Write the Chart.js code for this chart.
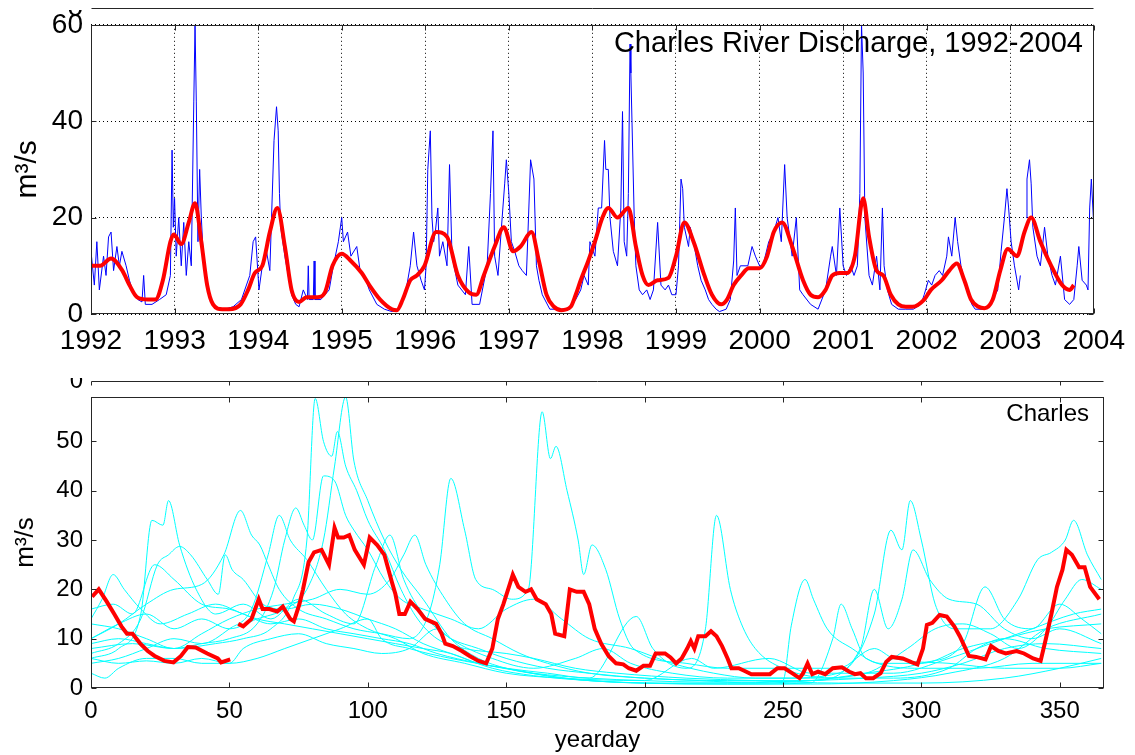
<!DOCTYPE html>
<html>
<head>
<meta charset="utf-8">
<script src="https://cdn.jsdelivr.net/npm/chart.js@4.4.1/dist/chart.umd.min.js"></script>
<style>
  html, body { margin: 0; padding: 0; background: #fff; }
  #wrap { position: relative; width: 1135px; height: 755px; overflow: hidden; }
  canvas { position: absolute; left: 0; }
  #topChart { top: 0; }
  #bottomChart { top: 355px; }
</style>
</head>
<body>
<div id="wrap">
  <canvas id="topChart" width="1135" height="355"></canvas>
  <canvas id="bottomChart" width="1135" height="400"></canvas>
</div>
<script>
// ---- top panel: daily discharge (decimal year, m3/s) ----
const yearTicks = [1992, 1993, 1994, 1995, 1996, 1997, 1998, 1999, 2000, 2001, 2002, 2003, 2004];
const flowTicks = [0, 20, 40, 60];

const dailyFlow = [
  [1992.00,13],[1992.04,6],[1992.07,15],[1992.10,5],[1992.15,12],[1992.18,8],[1992.21,16],[1992.24,17],
  [1992.27,9],[1992.31,14],[1992.34,10],[1992.37,13],[1992.42,10],[1992.46,7],[1992.51,4],[1992.56,3],
  [1992.61,2.5],[1992.63,8],[1992.65,2],[1992.73,2],[1992.82,3],[1992.90,4],[1992.95,8],[1992.97,34],
  [1992.985,18],[1993.00,24],[1993.02,12],[1993.05,20],[1993.08,10],[1993.11,19],[1993.14,8],[1993.17,15],
  [1993.20,10],[1993.23,44],[1993.245,60],[1993.26,44],[1993.28,15],[1993.30,30],[1993.32,20],[1993.35,10],
  [1993.39,6],[1993.44,3],[1993.48,1.5],[1993.60,1],[1993.70,1.5],[1993.80,3],[1993.90,8],[1993.94,15],
  [1993.97,16],[1994.01,5],[1994.05,10],[1994.10,13],[1994.14,9],[1994.19,36],[1994.22,43],[1994.24,38],
  [1994.255,25],[1994.27,18],[1994.32,12],[1994.36,8],[1994.40,4],[1994.45,2],[1994.49,1.5],[1994.54,5],
  [1994.59,3],[1994.60,10],[1994.61,3],[1994.66,3],[1994.67,11],[1994.68,3],[1994.75,3],[1994.85,5],
  [1994.90,10],[1994.96,15],[1995.00,20],[1995.02,15],[1995.07,17],[1995.11,12],[1995.18,14],[1995.22,9],
  [1995.29,7],[1995.33,5],[1995.42,2],[1995.51,1],[1995.60,0.5],[1995.68,1],[1995.77,5],[1995.82,10],
  [1995.86,17],[1995.90,10],[1995.95,7],[1995.99,5],[1996.01,10],[1996.03,30],[1996.06,38],[1996.08,20],
  [1996.10,15],[1996.12,17],[1996.15,22],[1996.17,12],[1996.21,15],[1996.26,10],[1996.29,31],[1996.32,12],
  [1996.39,6],[1996.48,4],[1996.52,14],[1996.56,2],[1996.65,2],[1996.74,10],[1996.78,25],[1996.81,38],
  [1996.83,12],[1996.87,8],[1996.92,20],[1996.95,27],[1996.97,32],[1997.00,25],[1997.03,15],[1997.07,13],
  [1997.12,10],[1997.16,9],[1997.21,8],[1997.26,32],[1997.30,28],[1997.33,10],[1997.36,7],[1997.40,4],
  [1997.49,1],[1997.58,1],[1997.71,1],[1997.80,3],[1997.86,5],[1997.90,8],[1997.95,6],[1997.97,15],
  [1998.03,12],[1998.07,22],[1998.11,22],[1998.145,36],[1998.16,30],[1998.19,30],[1998.21,20],[1998.25,13],
  [1998.30,10],[1998.34,22],[1998.36,42],[1998.38,15],[1998.41,12],[1998.43,25],[1998.45,56],[1998.46,50],
  [1998.50,20],[1998.52,10],[1998.56,5],[1998.60,4],[1998.65,5],[1998.69,3],[1998.73,5],[1998.78,19],
  [1998.82,6],[1998.87,5],[1998.91,6],[1998.95,4],[1999.00,4],[1999.03,10],[1999.06,28],[1999.08,26],
  [1999.10,18],[1999.15,14],[1999.17,18],[1999.21,15],[1999.26,10],[1999.30,7],[1999.35,5],[1999.39,3],
  [1999.43,2],[1999.48,1],[1999.52,0.5],[1999.60,1],[1999.65,3],[1999.69,11],[1999.71,22],[1999.73,8],
  [1999.77,10],[1999.86,10],[1999.91,14],[1999.95,12],[2000.00,10],[2000.04,10],[2000.11,15],[2000.17,17],
  [2000.22,20],[2000.26,15],[2000.30,31],[2000.33,20],[2000.39,12],[2000.44,20],[2000.48,5],[2000.52,4],
  [2000.61,2],[2000.70,1],[2000.79,5],[2000.85,12],[2000.87,14],[2000.92,8],[2000.96,22],[2001.00,10],
  [2001.04,8],[2001.09,10],[2001.13,8],[2001.17,10],[2001.20,25],[2001.22,60],[2001.24,50],[2001.26,20],
  [2001.31,8],[2001.35,6],[2001.40,12],[2001.44,5],[2001.47,22],[2001.49,10],[2001.53,5],[2001.58,2],
  [2001.66,1],[2001.75,1],[2001.84,1],[2001.93,2],[2001.97,4],[2002.02,7],[2002.06,6],[2002.10,8],
  [2002.15,9],[2002.19,8],[2002.24,12],[2002.26,16],[2002.30,12],[2002.34,20],[2002.37,15],[2002.41,10],
  [2002.45,7],[2002.50,4],[2002.54,2],[2002.58,1],[2002.67,1],[2002.76,2],[2002.85,5],[2002.89,13],
  [2002.93,20],[2002.96,26],[2002.98,22],[2003.01,15],[2003.05,10],[2003.10,5],[2003.12,8],[2003.15,null],
  [2003.19,20],[2003.20,28],[2003.23,32],[2003.25,27],[2003.27,18],[2003.32,12],[2003.36,10],[2003.41,18],
  [2003.45,12],[2003.50,8],[2003.54,6],[2003.60,12],[2003.65,3],[2003.71,2],[2003.76,3],[2003.80,10],
  [2003.82,14],[2003.86,7],[2003.91,6],[2003.93,5],[2003.95,22],[2003.97,28],[2004.00,18]
];

// low-passed discharge
const smoothFlow = [
  [1992.00,10],[1992.11,10],[1992.24,11.5],[1992.375,9],[1992.46,6],[1992.55,3.5],[1992.68,3],[1992.77,3],
  [1992.86,7],[1992.95,15],[1992.99,16.5],[1993.08,14.5],[1993.17,19],[1993.245,23],[1993.32,15],[1993.39,6],
  [1993.46,2],[1993.57,1],[1993.65,1],[1993.79,2],[1993.88,5],[1993.96,8.5],[1994.05,10],[1994.14,17],
  [1994.23,22],[1994.32,14],[1994.40,5],[1994.49,2.5],[1994.58,3.5],[1994.71,3.5],[1994.80,4.5],[1994.89,10],
  [1995.00,12.5],[1995.11,11],[1995.24,8.5],[1995.33,6],[1995.46,3],[1995.60,1],[1995.66,0.8],[1995.73,3],
  [1995.82,7],[1995.90,8],[1995.99,10],[1996.13,17],[1996.26,16],[1996.39,8],[1996.52,4.5],[1996.61,4],
  [1996.70,8],[1996.83,14],[1996.94,18],[1997.05,13],[1997.14,14],[1997.27,17],[1997.36,11],[1997.45,4],
  [1997.54,1.5],[1997.63,0.8],[1997.74,1.5],[1997.80,4],[1997.86,7],[1997.95,11],[1998.03,15],[1998.12,20],
  [1998.19,22],[1998.30,20],[1998.43,22],[1998.52,14],[1998.60,8],[1998.67,6],[1998.78,7],[1998.91,7.5],
  [1999.00,12],[1999.10,19],[1999.21,15],[1999.34,8],[1999.43,4],[1999.54,2],[1999.61,3],[1999.69,6],
  [1999.78,8],[1999.87,9.5],[2000.00,9.5],[2000.09,12],[2000.17,17],[2000.27,19],[2000.39,14],[2000.52,7],
  [2000.61,4],[2000.70,3.5],[2000.79,5],[2000.87,8],[2000.96,8.5],[2001.05,8.5],[2001.14,12],[2001.24,24],
  [2001.31,16],[2001.40,9],[2001.48,8],[2001.57,4],[2001.66,2],[2001.75,1.5],[2001.83,1.5],[2001.97,3],
  [2002.05,5],[2002.18,7],[2002.27,9],[2002.36,10.5],[2002.45,7],[2002.53,3],[2002.62,1.5],[2002.69,1.2],
  [2002.79,3],[2002.88,9],[2002.97,13.5],[2003.08,12],[2003.17,17],[2003.25,20],[2003.36,15],[2003.49,10],
  [2003.62,6],[2003.71,5],[2003.76,6]
];

// ---- bottom panel: yearday climatology (yearday, m3/s) ----
const dayTicks = [0, 50, 100, 150, 200, 250, 300, 350];
const dayFlowTicks = [0, 10, 20, 30, 40, 50];

const cyanA = [[0,10],[10,13],[20,15],[30,12],[40,14],[50,12],[60,14],[70,16],[78,20],[84,30],[88,45],[92,59],[95,46],[100,38],[106,30],[112,24],[120,18],[130,10],[140,6],[150,4],[165,2.5],[180,1.5],[200,1],[230,0.8],[260,0.8],[290,1.5],[310,3],[330,6],[345,12],[365,15]];
const cyanB = [[0,8],[15,9],[30,8],[45,9],[55,10],[65,12],[73,18],[78,30],[81,58.7],[84,50],[87,47],[89,52],[92,45],[96,40],[100,34],[106,28],[112,20],[118,14],[125,10],[135,8],[150,7],[160,6],[175,4],[190,3],[215,2],[240,1.5],[270,1],[300,1],[330,2],[350,4],[365,6]];
const cyanC = [[0,6],[10,8],[18,15],[22,34],[26,33],[28,38],[32,29],[38,20],[45,15],[55,17],[65,14],[75,18],[85,15],[95,13],[103,25],[108,31],[113,22],[120,15],[130,10],[145,6],[160,4],[175,6],[185,8],[195,5],[210,3],[230,2],[250,2],[270,3],[283,15],[289,32],[293,28],[296,38],[300,30],[305,17],[312,12],[325,12],[335,18],[342,26],[347,27.5],[352,30],[355,34],[360,27],[365,22]];
const cyanD = [[0,10],[10,13],[20,17],[30,20],[40,21],[48,27],[54,36],[58,31],[61,29],[64,25],[68,20],[75,16],[85,14],[95,12],[105,11],[115,10],[122,15],[126,25],[130,42.5],[135,32],[139,22],[145,20],[152,18],[158,20],[163,56],[166,46.5],[168,49],[172,40],[176,30],[178,23],[181,29],[186,24],[191,14],[196,8],[215,5],[230,4],[250,4],[270,4],[283,8],[290,6],[310,5],[330,4],[350,4],[365,5]];
const cyanE = [[0,13],[10,12],[20,10],[30,8],[40,9],[50,10],[60,13],[66,20],[70,30],[74,36.5],[77,33],[80,30],[84,43],[88,42],[92,35],[95,32],[100,28],[106,22],[112,18],[120,16],[130,14],[140,12],[150,16],[160,18],[170,14],[180,10],[195,8],[210,5],[225,3],[240,2],[260,2],[280,3],[295,8],[305,12],[315,13],[325,11],[335,8],[345,12],[352,18],[358,22],[365,20]];
const cyanF = [[0,5],[10,6],[20,8],[30,10],[40,9],[50,12],[58,16],[64,27],[68,35],[72,30],[78,26],[85,20],[92,15],[100,12],[110,10],[120,7],[135,5],[150,3],[170,2],[200,1.5],[217,6],[225,4],[245,6],[260,3],[290,3],[310,6],[325,9],[340,12],[355,15],[365,16]];
const cyanG = [[0,7],[10,9],[18,14],[24,25],[28,27],[32,28.7],[36,27],[42,22],[46,19],[48.5,27],[51,24],[55,22],[62,17],[70,16],[80,17],[90,16],[100,14],[110,12],[120,9],[130,7],[145,4],[160,2.5],[180,1.5],[200,1],[230,1],[250,1.5],[253,12.6],[258,22],[261,18],[266,12],[275,8],[285,5],[300,5],[315,8],[330,10],[345,12],[365,13]];
const cyanH = [[0,9],[10,10],[20,9],[30,8],[40,11],[50,14],[60,16],[70,17],[80,18],[90,20],[100,19],[108,22],[113,27],[117,31],[121,25],[128,18],[135,13],[145,10],[155,7],[165,5],[180,3],[200,2],[220,1.5],[240,1],[260,1.5],[280,3],[300,5],[315,9],[323,20.5],[330,14],[340,12],[350,17],[358,14],[365,11]];
const cyanI = [[0,14],[4,18],[8,23],[12,20],[18,16],[25,13],[35,15],[45,17],[55,15],[65,13],[75,14],[85,12],[95,11],[105,10],[115,9],[125,7],[140,5],[160,3],[180,2],[200,1.5],[220,1.2],[240,1.2],[260,1.5],[280,2],[300,3],[315,5],[330,8],[345,9],[365,8]];
const cyanJ = [[0,16],[8,17],[15,15],[23,25],[30,22],[40,17],[50,16],[60,14],[70,13],[80,12],[90,11],[100,10],[110,9],[120,8],[130,7],[140,5],[150,4],[165,3],[180,2],[197,14.5],[203,8],[215,4],[222,12],[226,35],[231,20],[235,13],[240,8],[250,4],[270,2],[290,2],[310,4],[320,8],[330,10],[345,8],[365,7]];
const cyanK = [[0,3],[5,2],[10,4],[20,6],[30,6],[40,5],[50,5],[60,6],[70,8],[80,10],[90,12],[100,14],[105,10],[115,8],[130,6],[150,4],[170,2],[200,1],[230,0.8],[260,1],[268,10],[271,17],[275,12],[280,6],[300,4],[320,4],[340,5],[365,5]];
const cyanL = [[0,6],[10,5],[20,5.5],[30,5],[40,6],[50,5],[55,8],[65,10],[75,11],[85,9],[95,8],[105,7],[115,8],[125,12],[130,10],[140,8],[150,6],[165,4],[180,3],[200,2],[230,1.5],[260,1.5],[278,8],[283,20],[288,12],[293,18],[297,28],[303,22],[310,18],[320,17],[330,12],[340,10],[350,12],[365,9]];
const cyanYears = [cyanA, cyanB, cyanC, cyanD, cyanE, cyanF, cyanG, cyanH, cyanI, cyanJ, cyanK, cyanL];

const redDay = [
  [0.4,18.5],[2.8,20],[5.7,17.5],[8.4,15],[11,12.5],[13,11],[15,11],[17.8,9],[20.5,7.5],[23,6.5],[26.5,5.5],
  [29.8,5.2],[32.5,6.5],[35,8.3],[37.8,8.2],[42,7],[45.8,6],[47,5.2],[50.3,5.8],[52,null],[53.2,13],[55,12.5],
  [58,14],[60.6,18],[62,16],[64.5,16],[67.3,15.5],[69.3,16.5],[72,14],[73.3,13.5],[75.3,17],[76.6,20],
  [78.6,25.5],[80.6,27.5],[83.3,28],[86,25],[88,32.5],[89.3,30.5],[91.3,30.5],[93.3,31],[95.3,28],[98.6,25],
  [100.7,30.5],[103.4,29],[106,27],[108.7,21.5],[110,19],[111.4,15],[113.4,15],[115.4,17.5],[118,16],
  [120.7,14],[124.7,13],[126.7,11],[128,9],[130.7,8.5],[134,7.5],[136.8,6.5],[140,5.5],[142.8,5],[145,8],
  [147,14],[149,17],[151,20.5],[152.4,23],[154.4,20.5],[157,19.5],[159,20],[161,18],[164.3,17],[166.3,15],
  [167.7,11],[171,10.5],[173,20],[175.5,19.5],[178,19.5],[180,17],[182,12],[184.3,9],[187,6.5],[189.7,5],
  [192.3,4.8],[194.3,4],[197,3.5],[199.6,4.5],[202,4.5],[204,7],[207.4,7],[209.4,6.2],[211.4,5],[213.4,6],
  [215.4,8],[216.7,9.5],[218,8],[219.4,10.5],[222,10.5],[224,11.5],[226,10.5],[228,8.5],[230,6],[231.4,4],
  [234,4],[236,3.5],[238.6,2.8],[241.3,2.8],[245.3,2.8],[248,4],[250.6,4],[253.3,3],[256,2],[257.3,3],
  [258.9,5],[260.6,2.8],[262.7,3.3],[265.3,2.8],[268,4],[271.3,4.2],[274,3.3],[276,2.8],[278,3],[280,2],
  [282.6,2],[285.3,3],[287.3,5.3],[289.3,6.3],[293.3,6],[296.6,5.2],[298.6,4.8],[300.6,8],[302,12.8],
  [304,13.2],[306.6,14.8],[309.2,14.5],[311.9,12.5],[313.9,10.5],[317.2,6.5],[319.8,6.3],[323.2,5.8],
  [325.2,8.5],[327.8,7.5],[330.5,7],[334.4,7.5],[337.1,7],[340.4,6],[343.1,5.5],[345,10],[347,15],[349,20.5],
  [351,24],[352.4,28],[354.4,27],[357,24.5],[359,24.5],[361,20.5],[364.3,18]
];

const FONT = '"Liberation Sans", Arial, Helvetica, sans-serif';
const toXY = arr => arr.map(p => ({ x: p[0], y: p[1] }));

// MATLAB-like box, inward ticks, stray axis line and corner label
const matlabFrame = {
  id: 'matlabFrame',
  afterDraw(chart, args, opts) {
    const { ctx, chartArea: a } = chart;
    const x = chart.scales.x, y = chart.scales.y;
    const L = Math.round(a.left) + 0.5, R = Math.round(a.right) - 0.5;
    const T = Math.round(a.top) + 0.5, B = Math.round(a.bottom) - 0.5;
    ctx.save();
    ctx.setLineDash([]);
    ctx.strokeStyle = '#262626';
    ctx.lineWidth = 1;
    ctx.strokeRect(L, T, R - L, B - T);
    ctx.beginPath();
    x.ticks.forEach(t => {
      const px = Math.round(x.getPixelForValue(t.value)) + 0.5;
      ctx.moveTo(px, B); ctx.lineTo(px, B - opts.tick);
      ctx.moveTo(px, T); ctx.lineTo(px, T + opts.tick);
    });
    y.ticks.forEach(t => {
      const py = Math.round(y.getPixelForValue(t.value)) + 0.5;
      ctx.moveTo(L, py); ctx.lineTo(L + opts.tick, py);
      ctx.moveTo(R, py); ctx.lineTo(R - opts.tick, py);
    });
    // stray axis line above the box
    const sy = opts.strayY + 0.5;
    ctx.moveTo(L, sy); ctx.lineTo(R, sy);
    if (opts.strayTicks) {
      x.ticks.forEach(t => {
        const px = Math.round(x.getPixelForValue(t.value)) + 0.5;
        ctx.moveTo(px, sy); ctx.lineTo(px, sy + 4);
      });
    }
    ctx.stroke();
    // clipped "0" of the stray axis
    ctx.save();
    ctx.beginPath();
    ctx.rect(0, opts.strayClip, a.left, 40);
    ctx.clip();
    ctx.fillStyle = '#000';
    ctx.font = opts.tickFont;
    ctx.textAlign = 'right';
    ctx.textBaseline = 'middle';
    ctx.fillText('0', a.left - 8, opts.strayY);
    ctx.restore();
    // corner label
    ctx.fillStyle = '#000';
    ctx.font = opts.labelFont;
    ctx.textAlign = 'right';
    ctx.textBaseline = 'middle';
    ctx.fillText(opts.label, opts.labelX, opts.labelY);
    ctx.restore();
  }
};

// top chart
new Chart(document.getElementById('topChart'), {
  type: 'line',
  data: {
    datasets: [
      {
        data: toXY(smoothFlow),
        borderColor: '#FF0000',
        borderWidth: 4,
        pointRadius: 0,
        cubicInterpolationMode: 'monotone',
        order: 0
      },
      {
        data: toXY(dailyFlow),
        borderColor: '#0000FF',
        borderWidth: 1,
        pointRadius: 0,
        tension: 0,
        spanGaps: false,
        order: 1
      }
    ]
  },
  options: {
    responsive: false,
    animation: false,
    devicePixelRatio: 1,
    layout: { padding: { top: 23, right: 38, left: 0, bottom: 0 } },
    plugins: {
      legend: { display: false },
      tooltip: { enabled: false },
      matlabFrame: {
        tick: 5, strayY: 8, strayTicks: false, strayClip: 10,
        tickFont: '28px ' + FONT,
        label: 'Charles River Discharge, 1992-2004',
        labelFont: '29px ' + FONT, labelX: 1083, labelY: 44
      }
    },
    scales: {
      x: {
        type: 'linear', min: 1992, max: 2004,
        afterBuildTicks: s => { s.ticks = yearTicks.map(v => ({ value: v })); },
        afterFit: s => { s.height = 41; },
        grid: { color: '#000', lineWidth: 1, drawTicks: false },
        border: { display: false, dash: [1, 3] },
        ticks: { color: '#000', font: { family: FONT, size: 28 }, padding: 10, maxRotation: 0, autoSkip: false, callback: v => String(v) }
      },
      y: {
        type: 'linear', min: 0, max: 60,
        afterBuildTicks: s => { s.ticks = flowTicks.map(v => ({ value: v })); },
        afterFit: s => { s.width = 91; },
        grid: { color: '#000', lineWidth: 1, drawTicks: false },
        border: { display: false, dash: [1, 3] },
        ticks: { color: '#000', font: { family: FONT, size: 28 }, padding: 8, callback: v => String(v) },
        title: { display: true, text: 'm³/s', color: '#000', font: { family: FONT, size: 30 }, padding: { top: 10, bottom: 0 } }
      }
    }
  },
  plugins: [matlabFrame]
});

// bottom chart
const bottomSets = cyanYears.map(arr => ({
  data: toXY(arr),
  borderColor: '#00FFFF',
  borderWidth: 1,
  pointRadius: 0,
  cubicInterpolationMode: 'monotone',
  order: 1
}));
bottomSets.push({
  data: toXY(redDay),
  borderColor: '#FF0000',
  borderWidth: 4,
  pointRadius: 0,
  tension: 0,
  spanGaps: false,
  order: 0
});

new Chart(document.getElementById('bottomChart'), {
  type: 'line',
  data: { datasets: bottomSets },
  options: {
    responsive: false,
    animation: false,
    devicePixelRatio: 1,
    layout: { padding: { top: 42, right: 31, left: 0, bottom: 0 } },
    plugins: {
      legend: { display: false },
      tooltip: { enabled: false },
      matlabFrame: {
        tick: 5, strayY: 26, strayTicks: true, strayClip: 23,
        tickFont: '24px ' + FONT,
        label: 'Charles',
        labelFont: '24px ' + FONT, labelX: 1089, labelY: 59
      }
    },
    scales: {
      x: {
        type: 'linear', min: 0, max: 366,
        afterBuildTicks: s => { s.ticks = dayTicks.map(v => ({ value: v })); },
        afterFit: s => { s.height = 67; },
        grid: { display: false, drawTicks: false },
        border: { display: false },
        ticks: { color: '#000', font: { family: FONT, size: 24 }, padding: 9, maxRotation: 0, autoSkip: false, callback: v => String(v) },
        title: { display: true, text: 'yearday', color: '#000', font: { family: FONT, size: 24 }, padding: { top: 0, bottom: 0 } }
      },
      y: {
        type: 'linear', min: 0, max: 59,
        afterBuildTicks: s => { s.ticks = dayFlowTicks.map(v => ({ value: v })); },
        afterFit: s => { s.width = 91; },
        grid: { display: false, drawTicks: false },
        border: { display: false },
        ticks: { color: '#000', font: { family: FONT, size: 24 }, padding: 8, callback: v => String(v) },
        title: { display: true, text: 'm³/s', color: '#000', font: { family: FONT, size: 26 }, padding: { top: 10, bottom: 0 } }
      }
    }
  },
  plugins: [matlabFrame]
});
</script>
</body>
</html>
